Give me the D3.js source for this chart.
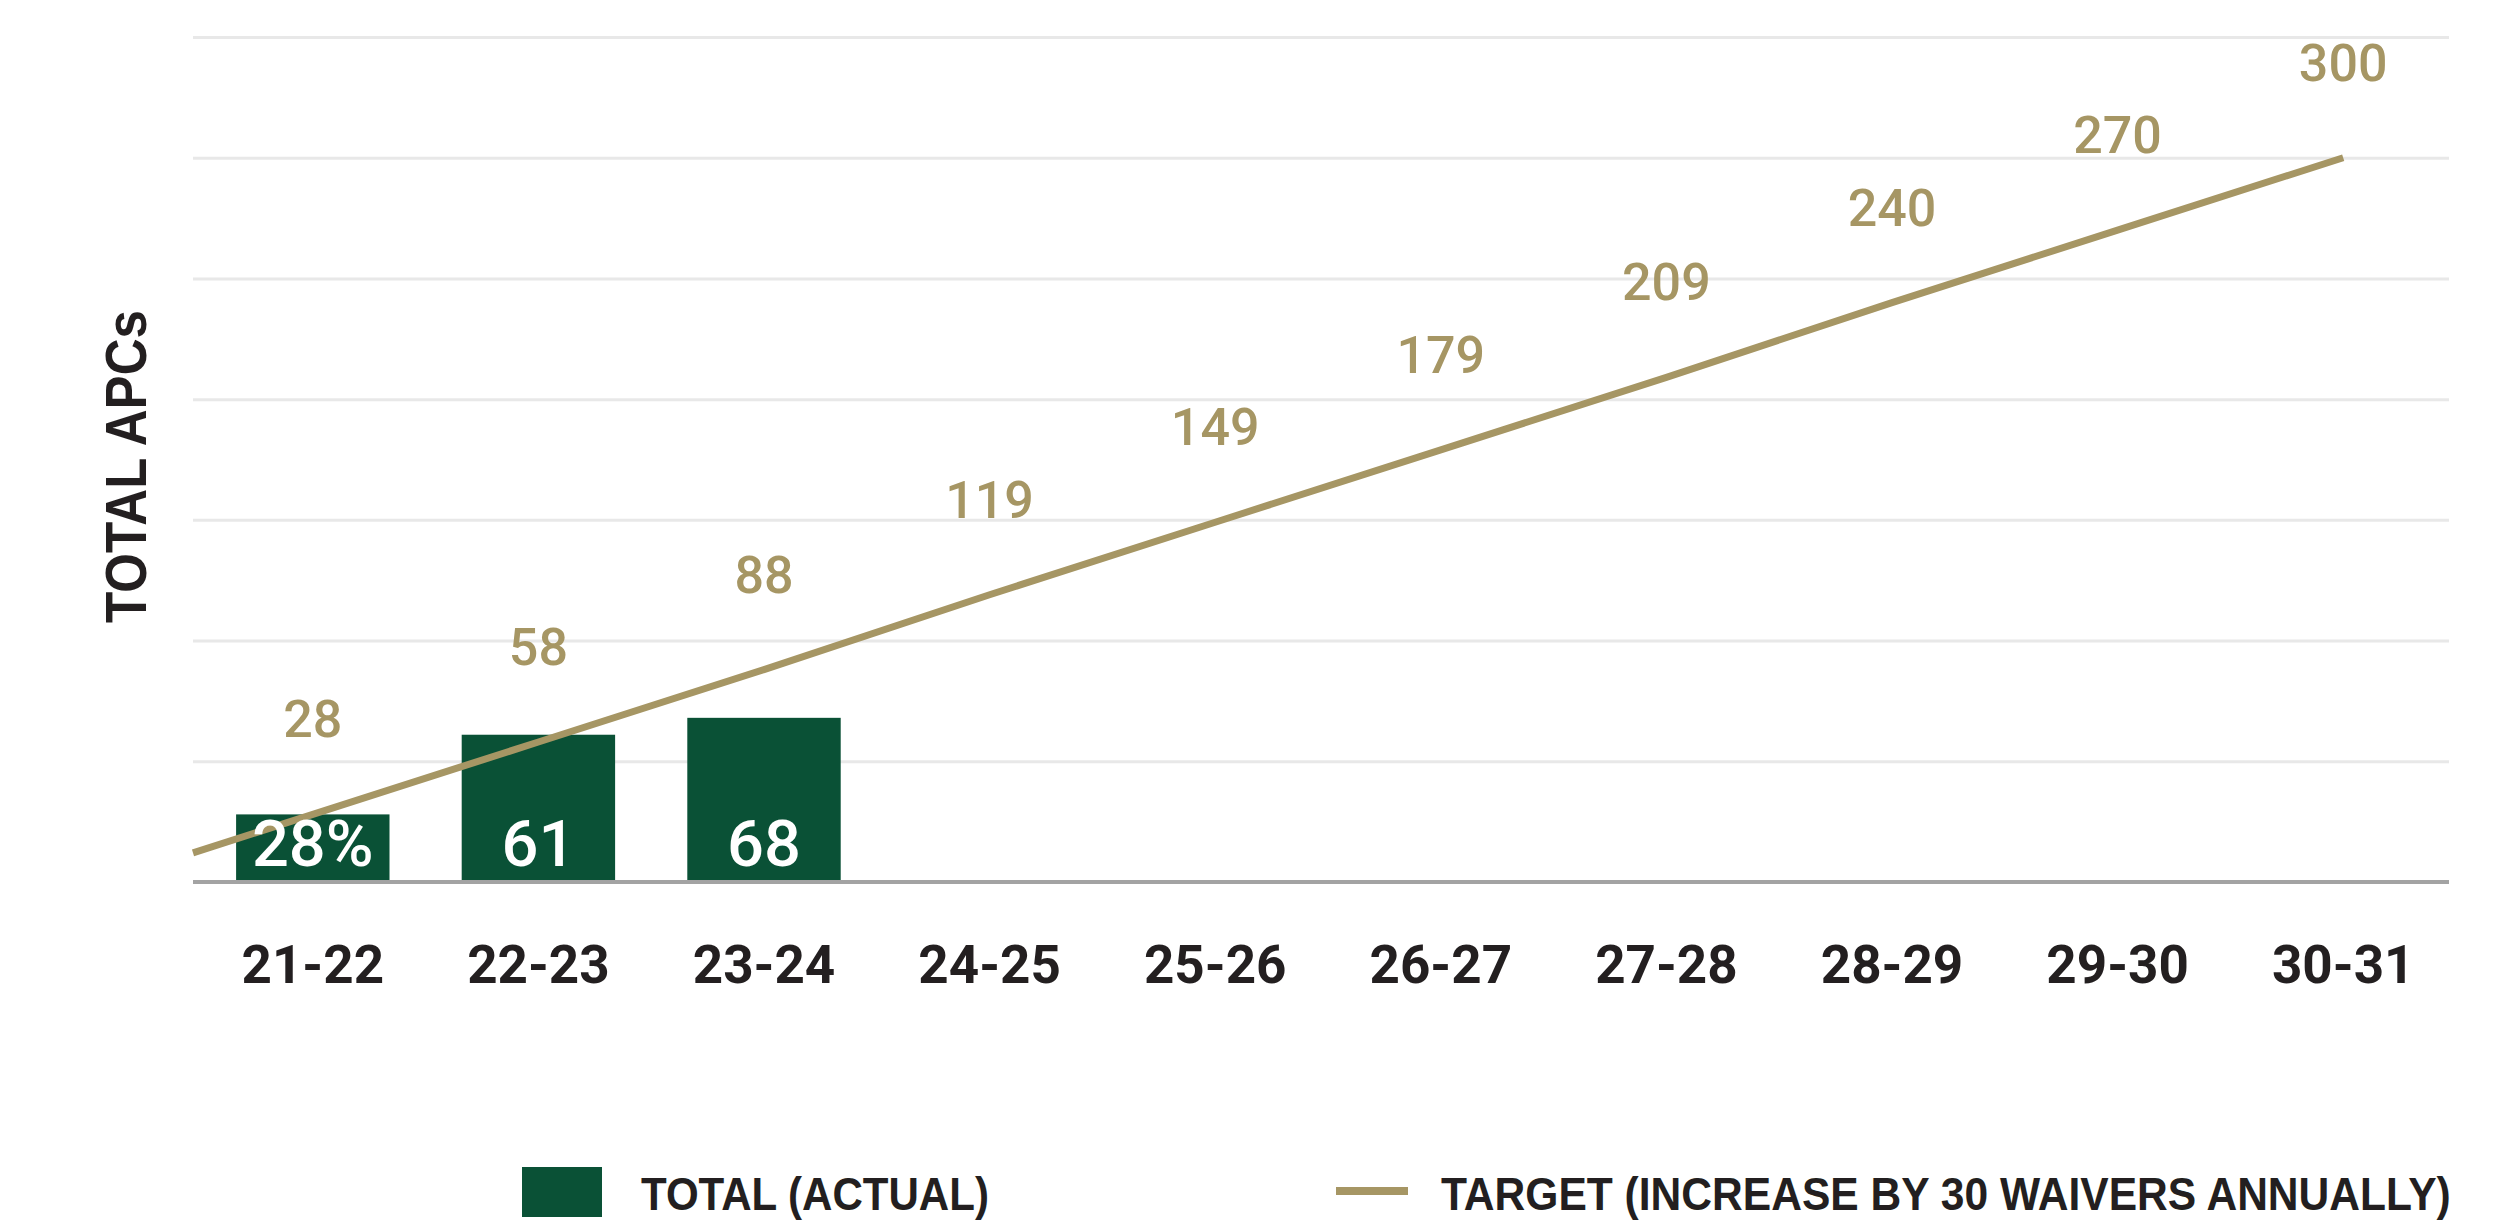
<!DOCTYPE html>
<html>
<head>
<meta charset="utf-8">
<script src="https://cdn.jsdelivr.net/npm/d3@7"></script>
<style>
  html, body { margin: 0; padding: 0; background: #ffffff; }
  svg { display: block; }
</style>
</head>
<body>
<svg id="chart" width="2518" height="1227"></svg>
<script>
// ---- data ----
const categories = ["21-22", "22-23", "23-24", "24-25", "25-26", "26-27", "27-28", "28-29", "29-30", "30-31"];
const actualValues = [28, 61, 68];
const actualLabels = ["28%", "61", "68"];
const targetValues = [28, 58, 88, 119, 149, 179, 209, 240, 270, 300];
const yTicks = [0, 50, 100, 150, 200, 250, 300, 350];
const yAxisTitle = "TOTAL APCs";
const legendActual = "TOTAL (ACTUAL)";
const legendTarget = "TARGET (INCREASE BY 30 WAIVERS ANNUALLY)";

// ---- styles ----
const GREEN = "#0a5136";
const GOLD = "#a69664";
const DARK = "#231f20";
const FONT = "Roboto, 'Liberation Sans', Arial, sans-serif";
const NARROW = "'Liberation Sans Narrow', 'Liberation Sans', Arial, sans-serif";

const svg = d3.select("#chart");

const plotLeft = 193, plotRight = 2449;
const x = d3.scaleBand().domain(categories).range([200, 2456]).paddingInner(0.32).paddingOuter(0.16);
const y = d3.scaleLinear().domain([0, 350]).range([882, 37]);

// gridlines
const grid = svg.append("g").attr("transform", `translate(${plotLeft},0)`)
  .call(d3.axisLeft(y).tickValues(yTicks.filter(t => t > 0)).tickSize(-(plotRight - plotLeft)).tickFormat(""));
grid.select(".domain").remove();
grid.selectAll(".tick line").attr("stroke", "#e8e8e8").attr("stroke-width", 3);

// bars
const bars = categories.slice(0, actualValues.length).map((c, i) => ({ c, v: actualValues[i], label: actualLabels[i] }));
svg.append("g").selectAll("rect").data(bars).join("rect")
  .attr("x", d => x(d.c))
  .attr("width", x.bandwidth())
  .attr("y", d => y(d.v))
  .attr("height", d => y(0) - y(d.v))
  .attr("fill", GREEN);

// baseline
svg.append("line")
  .attr("x1", plotLeft).attr("x2", plotRight)
  .attr("y1", y(0)).attr("y2", y(0))
  .attr("stroke", "#a3a3a3").attr("stroke-width", 4);

// target line (extended to plot left edge from the first step)
const cx = c => x(c) + x.bandwidth() / 2;
const step = x.step();
const pts = targetValues.map((v, i) => [cx(categories[i]), y(v)]);
const firstSlope = (targetValues[1] - targetValues[0]) / step;
const leftVal = targetValues[0] - firstSlope * (cx(categories[0]) - plotLeft);
pts.unshift([plotLeft, y(leftVal)]);
svg.append("path")
  .attr("d", d3.line()(pts))
  .attr("fill", "none")
  .attr("stroke", GOLD)
  .attr("stroke-width", 7);

// bar labels
svg.append("g").selectAll("text").data(bars).join("text")
  .attr("x", d => cx(d.c))
  .attr("y", y(0) - 16)
  .attr("text-anchor", "middle")
  .attr("font-family", FONT)
  .attr("font-weight", 500)
  .attr("font-size", 65)
  .attr("fill", "#ffffff")
  .text(d => d.label);

// target labels
svg.append("g").selectAll("text").data(targetValues).join("text")
  .attr("x", (d, i) => cx(categories[i]))
  .attr("y", d => y(d) - 77)
  .attr("text-anchor", "middle")
  .attr("font-family", FONT)
  .attr("font-weight", 500)
  .attr("font-size", 52)
  .attr("fill", GOLD)
  .text(d => d);

// category labels
svg.append("g").selectAll("text").data(categories).join("text")
  .attr("x", d => cx(d))
  .attr("y", 983)
  .attr("text-anchor", "middle")
  .attr("font-family", FONT)
  .attr("font-weight", 700)
  .attr("font-size", 53)
  .attr("fill", DARK)
  .text(d => d);

// helper: condensed text fitted to a given width via horizontal scale
function fittedText(g, str, size, width) {
  const t = g.append("text")
    .attr("font-family", NARROW).attr("font-weight", 700).attr("font-size", size)
    .attr("fill", DARK).text(str);
  const natural = t.node().getComputedTextLength();
  t.attr("transform", `scale(${width / natural},1)`);
  return t;
}

// y-axis title
const yt = svg.append("g").attr("transform", "translate(146,623) rotate(-90)");
fittedText(yt, yAxisTitle, 58, 313);

// legend
svg.append("rect").attr("x", 522).attr("y", 1167).attr("width", 80).attr("height", 50).attr("fill", GREEN);
fittedText(svg.append("g").attr("transform", "translate(641,1210)"), legendActual, 47, 348);
svg.append("line").attr("x1", 1336).attr("x2", 1408).attr("y1", 1191).attr("y2", 1191)
  .attr("stroke", GOLD).attr("stroke-width", 8);
fittedText(svg.append("g").attr("transform", "translate(1441,1210)"), legendTarget, 47, 1010);
</script>
</body>
</html>
